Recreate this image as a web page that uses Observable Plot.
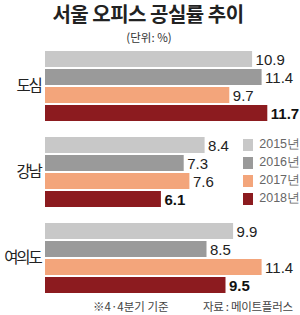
<!DOCTYPE html>
<html><head><meta charset="utf-8">
<script src="https://cdn.jsdelivr.net/npm/d3@7"></script>
<script src="https://cdn.jsdelivr.net/npm/@observablehq/plot@0.6"></script>
<style>
body{margin:0;background:#fff;}
#wrap{position:relative;width:300px;height:315px;overflow:hidden;font-family:"Noto Sans CJK KR",sans-serif;color:#222;}
#title{position:absolute;left:0;width:296px;top:0;text-align:center;font-size:20px;font-weight:bold;letter-spacing:-0.5px;line-height:28px;}
#unit{position:absolute;left:0;width:298px;top:30px;text-align:center;font-size:11.5px;line-height:14px;color:#333;}
#chart{position:absolute;left:0;top:44px;}
#chart svg g[aria-label^="fy-axis"] text{font-size:15.5px;fill:#222;letter-spacing:-2.2px;}
#legend{position:absolute;left:243px;top:136px;}
#note{position:absolute;left:93px;top:299px;font-size:11.5px;line-height:14px;color:#444;}
#src{position:absolute;left:203px;top:299px;font-size:11.5px;line-height:14px;color:#444;letter-spacing:-0.3px;white-space:nowrap;}
</style></head><body><div id="wrap">
<div id="title">서울 오피스 공실률 추이</div>
<div id="unit">(단위: %)</div>
<div id="chart"></div>
<div id="legend"></div>
<div id="note">※4·4분기 기준</div>
<div id="src">자료 : 메이트플러스</div>
</div>
<script>
const regions = ["도심", "강남", "여의도"];
const years = ["2015년", "2016년", "2017년", "2018년"];
const colors = ["#c8c8c8", "#9a9a9a", "#f3a57b", "#8c1b1f"];
const v2015 = [10.9, 8.4, 9.9];
const v2016 = [11.4, 7.3, 8.5];
const v2017 = [9.7, 7.6, 11.4];
const v2018 = [11.7, 6.1, 9.5];

const series = [v2015, v2016, v2017, v2018];
const rows = [];
regions.forEach((r, i) => years.forEach((y, j) => rows.push({region: r, year: y, value: series[j][i]})));

const chart = Plot.plot({
  width: 300,
  height: 256,
  marginLeft: 45,
  marginRight: 8,
  marginTop: 0,
  marginBottom: 0,
  style: {fontFamily: "'Noto Sans CJK KR', sans-serif", background: "transparent"},
  facet: {data: rows, y: "region"},
  fy: {domain: regions, paddingInner: 0.14, paddingOuter: 0.058, label: null, tickSize: 0, tickPadding: 5, line: true},
  y: {domain: years, paddingInner: 0.1, paddingOuter: 0, axis: null},
  x: {domain: [0, 13], axis: null},
  color: {domain: years, range: colors},
  marks: [
    Plot.barX(rows, {x: "value", y: "year", fill: "year"}),
    Plot.text(rows, {filter: d => d.year !== "2018년", x: "value", y: "year", text: d => d.value.toFixed(1), textAnchor: "start", dx: 3, dy: 1, fontSize: 15, fill: "#222", fontFamily: "'Liberation Sans', sans-serif"}),
    Plot.text(rows, {filter: d => d.year === "2018년", x: "value", y: "year", text: d => d.value.toFixed(1), textAnchor: "start", dx: 3, dy: 1, fontSize: 15, fontWeight: "bold", fill: "#111", fontFamily: "'Liberation Sans', sans-serif"})
  ]
});
document.getElementById("chart").appendChild(chart);

const leg = Plot.legend({color: {domain: years, range: colors}, legend: "swatches", columns: 1, swatchWidth: 10, swatchHeight: 12, style: {fontSize: "12.5px", color: "#666", fontFamily: "'Liberation Sans', sans-serif"}});
document.getElementById("legend").appendChild(leg);
</script>
</body></html>
